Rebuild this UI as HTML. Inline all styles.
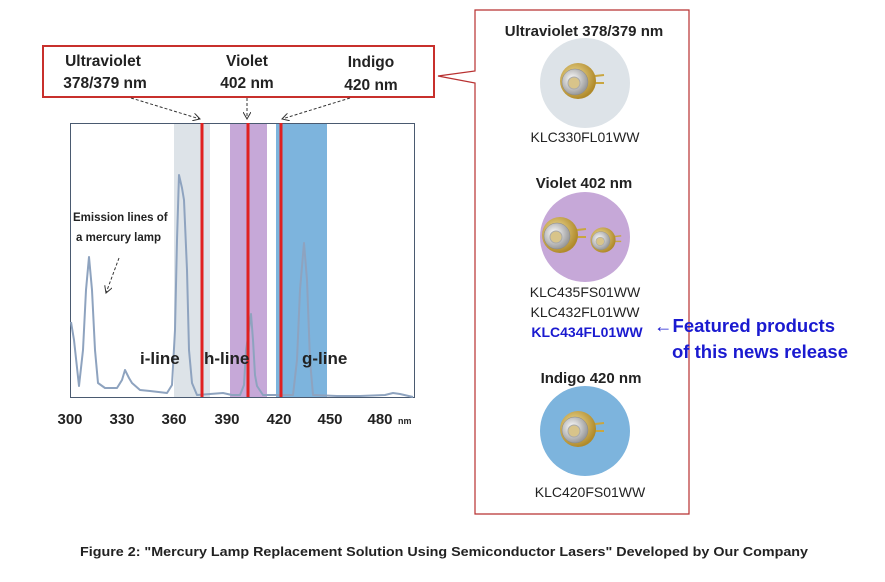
<!DOCTYPE html>
<html><head><meta charset="utf-8"><style>
html,body{margin:0;padding:0;background:#fff;}
svg{display:block;font-family:"Liberation Sans",Calibri,sans-serif;}
.b{font-weight:bold;fill:#222;}
</style></head><body>
<svg width="885" height="582" viewBox="0 0 885 582" xmlns="http://www.w3.org/2000/svg">
<defs>
<marker id="ah" markerWidth="8" markerHeight="8" refX="7" refY="4" orient="auto"><path d="M0,0 L7,4 L0,8" fill="none" stroke="#333" stroke-width="1"/></marker>
<radialGradient id="gold" cx="0.4" cy="0.4" r="0.6"><stop offset="0" stop-color="#f3e2a0"/><stop offset="1" stop-color="#b08a2a"/></radialGradient>
<radialGradient id="silv" cx="0.4" cy="0.4" r="0.6"><stop offset="0" stop-color="#fff"/><stop offset="1" stop-color="#9a9a9a"/></radialGradient>
<g id="laser">
<line x1="8" y1="-4" x2="26" y2="-6" stroke="#c9a640" stroke-width="2"/>
<line x1="8" y1="2" x2="26" y2="2" stroke="#c9a640" stroke-width="2"/>
<circle cx="0" cy="0" r="18" fill="url(#gold)"/>
<circle cx="-3" cy="1" r="13" fill="url(#silv)" stroke="#888" stroke-width="0.5"/>
<circle cx="-4" cy="2" r="6" fill="#d8c48a" stroke="#aaa"/>
</g>
</defs>
<!-- chart -->
<rect x="174" y="123" width="36" height="274" fill="#dde3e8"/>
<rect x="230" y="123" width="37" height="274" fill="#c6a8d8"/>
<rect x="276" y="123" width="51" height="274" fill="#7db4dd"/>
<rect x="70.5" y="123.5" width="344" height="274" fill="none" stroke="#4a5a70" stroke-width="1"/>
<polyline fill="none" stroke="#8ea3bf" stroke-width="2" stroke-linejoin="round" points="71,322 74,340 79,386 83,350 86,290 89,257 92,290 95,350 98,383 105,388 117,388 122,380 125,370 129,378 132,383 140,390 150,391 167,393 172,385 175,330 177,240 179,175 182,188 184,200 187,270 189,350 192,383 197,395 223,393 232,395 240,395 244,385 246,350 248,337 251,314 253,340 255,375 257,386 263,395 293,395 297,360 300,290 304,243 307,280 310,360 313,395 337,396 360,396 385,395 393,393 400,394 413,397"/>
<rect x="200.5" y="123" width="3" height="274" fill="#e02020"/>
<rect x="246.5" y="123" width="3" height="274" fill="#e02020"/>
<rect x="279.5" y="123" width="3" height="274" fill="#e02020"/>
<text x="140" y="364" class="b" font-size="17">i-line</text>
<text x="204" y="364" class="b" font-size="17">h-line</text>
<text x="302" y="364" class="b" font-size="17">g-line</text>
<text x="73" y="221" class="b" font-size="11.5">Emission lines of</text>
<text x="76" y="241" class="b" font-size="11.5">a mercury lamp</text>
<line x1="119" y1="258" x2="106" y2="293" stroke="#333" stroke-dasharray="3,2" marker-end="url(#ah)"/>
<g class="b" font-size="15" text-anchor="middle">
<text x="70" y="424">300</text><text x="122" y="424">330</text><text x="174" y="424">360</text><text x="227" y="424">390</text><text x="279" y="424">420</text><text x="330" y="424">450</text><text x="380" y="424">480</text>
</g>
<text x="398" y="424" class="b" font-size="9">nm</text>
<!-- label box -->
<rect x="43" y="46" width="391" height="51" fill="#fff" stroke="#c8302c" stroke-width="2"/>
<g class="b" font-size="15.5" text-anchor="middle">
<text x="103" y="66">Ultraviolet</text><text x="105" y="88">378/379 nm</text>
<text x="247" y="66">Violet</text><text x="247" y="88">402 nm</text>
<text x="371" y="67">Indigo</text><text x="371" y="90">420 nm</text>
</g>
<line x1="131" y1="98" x2="200" y2="119" stroke="#333" stroke-dasharray="3,2" marker-end="url(#ah)"/>
<line x1="247" y1="98" x2="247" y2="119" stroke="#333" stroke-dasharray="3,2" marker-end="url(#ah)"/>
<line x1="350" y1="98" x2="282" y2="119" stroke="#333" stroke-dasharray="3,2" marker-end="url(#ah)"/>
<!-- right panel -->
<path d="M475,71 L475,10 L689,10 L689,514 L475,514 L475,83 L438,76 Z" fill="#fff" stroke="#b83030" stroke-width="1.2"/>
<text x="584" y="36" class="b" font-size="15" text-anchor="middle">Ultraviolet 378/379 nm</text>
<circle cx="585" cy="83" r="45" fill="#dde3e8"/>
<use href="#laser" x="578" y="81"/>
<text x="585" y="142" font-size="14" fill="#222" text-anchor="middle">KLC330FL01WW</text>
<text x="584" y="188" class="b" font-size="15" text-anchor="middle">Violet 402 nm</text>
<circle cx="585" cy="237" r="45" fill="#c6a8d8"/>
<use href="#laser" x="560" y="235"/>
<g transform="translate(603,240) scale(0.7)"><use href="#laser"/></g>
<g font-size="14" fill="#222" text-anchor="middle">
<text x="585" y="297">KLC435FS01WW</text><text x="585" y="317">KLC432FL01WW</text>
</g>
<text x="587" y="337" font-size="14" font-weight="bold" fill="#1a1ad0" text-anchor="middle">KLC434FL01WW</text>
<text x="654" y="332" font-size="18" font-weight="bold" fill="#1a1ad0" textLength="181" lengthAdjust="spacingAndGlyphs">←Featured products</text>
<text x="672" y="358" font-size="18" font-weight="bold" fill="#1a1ad0" textLength="176" lengthAdjust="spacingAndGlyphs">of this news release</text>
<text x="591" y="383" class="b" font-size="15" text-anchor="middle">Indigo 420 nm</text>
<circle cx="585" cy="431" r="45" fill="#7db4dd"/>
<use href="#laser" x="578" y="429"/>
<text x="590" y="497" font-size="14" fill="#222" text-anchor="middle">KLC420FS01WW</text>
<text x="80" y="556" class="b" font-size="13" textLength="728" lengthAdjust="spacingAndGlyphs">Figure 2: "Mercury Lamp Replacement Solution Using Semiconductor Lasers" Developed by Our Company</text>
</svg>
</body></html>
